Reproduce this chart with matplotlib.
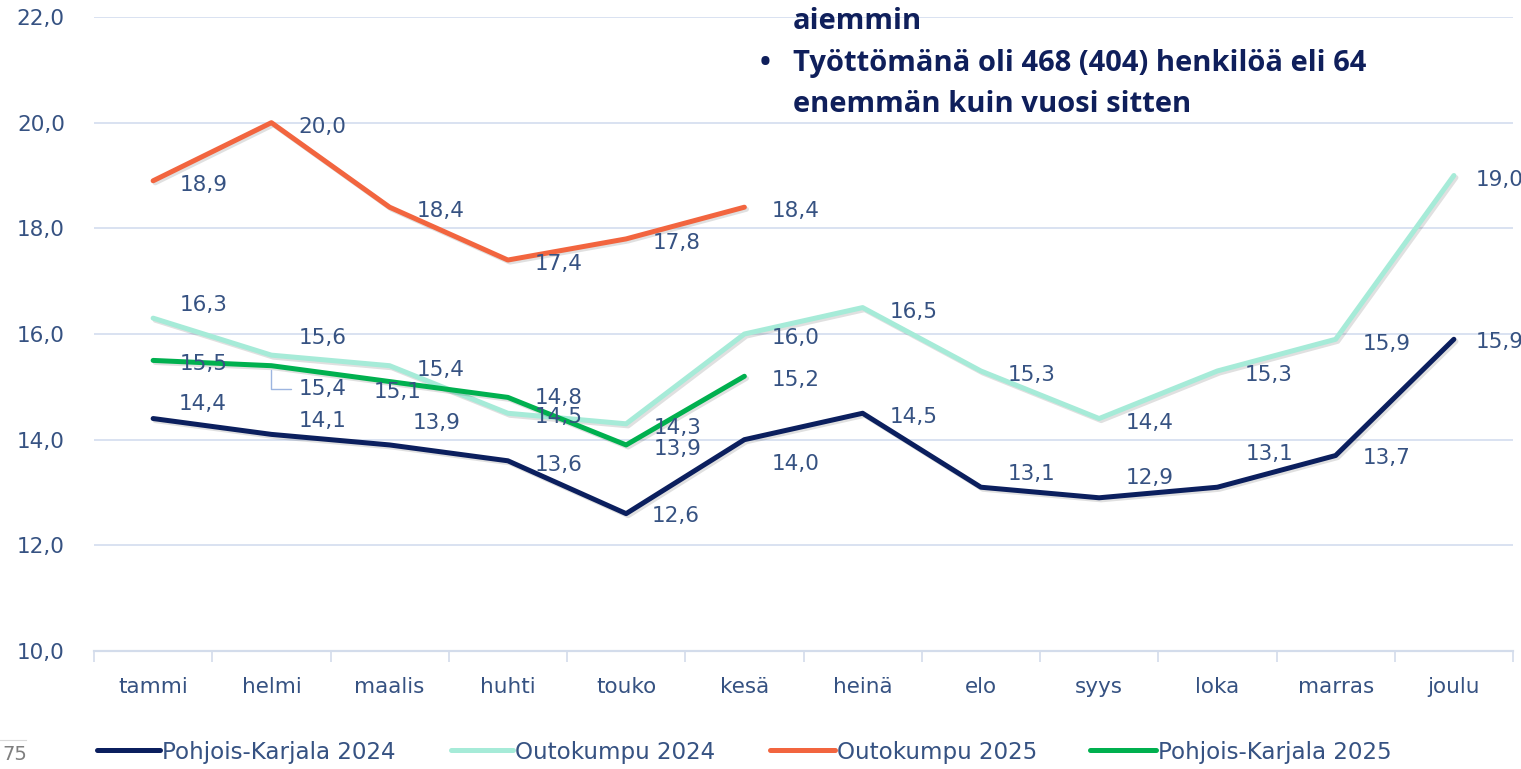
import matplotlib
matplotlib.use("Agg")
import matplotlib.pyplot as plt
from matplotlib import patheffects as pe
from matplotlib.lines import Line2D
from matplotlib.ticker import FuncFormatter, FixedLocator

# ---------------- data ----------------
months = ["tammi", "helmi", "maalis", "huhti", "touko", "kesä",
          "heinä", "elo", "syys", "loka", "marras", "joulu"]
pk2024 = [14.4, 14.1, 13.9, 13.6, 12.6, 14.0, 14.5, 13.1, 12.9, 13.1, 13.7, 15.9]
ok2024 = [16.3, 15.6, 15.4, 14.5, 14.3, 16.0, 16.5, 15.3, 14.4, 15.3, 15.9, 19.0]
ok2025 = [18.9, 20.0, 18.4, 17.4, 17.8, 18.4]
pk2025 = [15.5, 15.4, 15.1, 14.8, 13.9, 15.2]
series_names = ["Pohjois-Karjala 2024", "Outokumpu 2024",
                "Outokumpu 2025", "Pohjois-Karjala 2025"]
yticks = [10, 12, 14, 16, 18, 20, 22]
note_lines = ["aiemmin",
              "Työttömänä oli 468 (404) henkilöä eli 64",
              "enemmän kuin vuosi sitten"]

# ---------------- style ----------------
W, H = 1521, 769
FONT = "DejaVu Sans"
TXT = "#365282"
GRID = "#D9E2F1"
colors = ["#0B1F5E", "#A6EBD8", "#F2653F", "#00B04F"]

# label offsets (px, right / down) relative to point; 'L' = left aligned
D = (51, 2)
offs_pk2024 = [(50, -17), (51, -15), (47, -24), D, (50, 0), (51, 22), D,
               (51, -15), (51, -22), (52, -35), (51, 0), ("L", 1)]
offs_ok2024 = [(50, -15), (51, -19), D, D, D, D, D, D, D, D, (51, 3), ("L", 2)]
offs_ok2025 = [D, D, D, D, D, D]
offs_pk2025 = [D, (51, 21), (8, 8), (51, -1), D, D]

fig = plt.figure(figsize=(W / 100, H / 100), dpi=100)
ax = fig.add_axes([94 / W, 118 / H, (1513 - 94) / W, 634 / H])
ax.set_xlim(-0.5, len(months) - 0.5)
ax.set_ylim(yticks[0], yticks[-1])

ax.set_yticks(yticks)
ax.yaxis.set_major_formatter(FuncFormatter(lambda v, p: f"{v:.1f}".replace(".", ",")))
ax.yaxis.grid(True, color=GRID, lw=1.4)
ax.set_axisbelow(True)
for s in ["top", "right", "left"]:
    ax.spines[s].set_visible(False)
ax.spines["bottom"].set_color("#D3DCEB")
ax.spines["bottom"].set_linewidth(1.6)

x = list(range(len(months)))
ax.set_xticks(x)
ax.set_xticklabels(months)
ax.xaxis.set_minor_locator(FixedLocator([i - 0.5 for i in range(len(months) + 1)]))
ax.tick_params(axis="x", which="minor", length=8, color="#D3DCEB", width=1.2)
ax.tick_params(axis="x", which="major", length=0, pad=19, labelsize=15.5, labelcolor=TXT)
ax.tick_params(axis="y", length=0, pad=21, labelsize=15.5, labelcolor=TXT)
for t in ax.get_xticklabels() + ax.get_yticklabels():
    t.set_fontfamily(FONT)

shadow = [pe.SimpleLineShadow(offset=(1.5, -1.5), shadow_color="k", alpha=0.12),
          pe.Normal()]
all_series = [pk2024, ok2024, ok2025, pk2025]
all_offs = [offs_pk2024, offs_ok2024, offs_ok2025, offs_pk2025]
for vals, col, name in zip(all_series, colors, series_names):
    ax.plot(x[:len(vals)], vals, color=col, lw=3.6, solid_capstyle="round",
            solid_joinstyle="round", path_effects=shadow, label=name, zorder=3)

for si, (vals, offs) in enumerate(zip(all_series, all_offs)):
    for i, (v, (dx, dy)) in enumerate(zip(vals, offs)):
        txt = f"{v:.1f}".replace(".", ",")
        if dx == "L":
            ax.annotate(txt, (i, v), xytext=(22, -dy), textcoords="offset pixels",
                        ha="left", va="center_baseline", fontsize=15.5,
                        color=TXT, family=FONT, zorder=5, annotation_clip=False)
        elif si == 3 and i == 1:
            ax.annotate(txt, (i, v), xytext=(dx, -dy), textcoords="offset pixels",
                        ha="center", va="center_baseline", fontsize=15.5,
                        color=TXT, family=FONT, zorder=5,
                        arrowprops=dict(arrowstyle="-", color="#9DB5E0", lw=1.0,
                                        connectionstyle="angle,angleA=0,angleB=90,rad=0",
                                        shrinkA=3, shrinkB=3))
        else:
            ax.annotate(txt, (i, v), xytext=(dx, -dy), textcoords="offset pixels",
                        ha="center", va="center_baseline", fontsize=15.5,
                        color=TXT, family=FONT, zorder=5)

# ---------------- legend (manual layout) ----------------
leg_y = 1 - 750 / H
leg_x = [(97, 160), (451, 513), (770, 835), (1090, 1156)]
for (x0, x1), col, name in zip(leg_x, colors, series_names):
    fig.add_artist(Line2D([x0 / W, x1 / W], [leg_y, leg_y], transform=fig.transFigure,
                          color=col, lw=3.6, solid_capstyle="round"))
    fig.text((x1 + 2) / W, leg_y, name, ha="left", va="center_baseline",
             fontsize=16.6, color=TXT, family=FONT)

# ---------------- overlay note ----------------
NOTE = "#0F1F5B"
NFS = 21
fig.text(793 / W, 1 - 29 / H, note_lines[0], ha="left", va="baseline",
         fontsize=NFS, fontweight="bold", color=NOTE, family="Open Sans")
fig.text(760 / W, 1 - 71 / H, "•", ha="left", va="baseline",
         fontsize=NFS, fontweight="bold", color=NOTE, family="Open Sans")
fig.text(793 / W, 1 - 71 / H, note_lines[1], ha="left", va="baseline",
         fontsize=NFS, fontweight="bold", color=NOTE, family="Open Sans")
fig.text(793 / W, 1 - 112 / H, note_lines[2], ha="left", va="baseline",
         fontsize=NFS, fontweight="bold", color=NOTE, family="Open Sans")

# slide page number remnant
fig.add_artist(Line2D([0, 26 / W], [1 - 740 / H, 1 - 740 / H], transform=fig.transFigure,
                      color="#D9D9D9", lw=0.8))
fig.text(2 / W, 1 - 752 / H, "75", ha="left", va="center_baseline",
         fontsize=14, color="#7F7F7F", family=FONT)

fig.savefig("out.png", dpi=100, facecolor="white")
